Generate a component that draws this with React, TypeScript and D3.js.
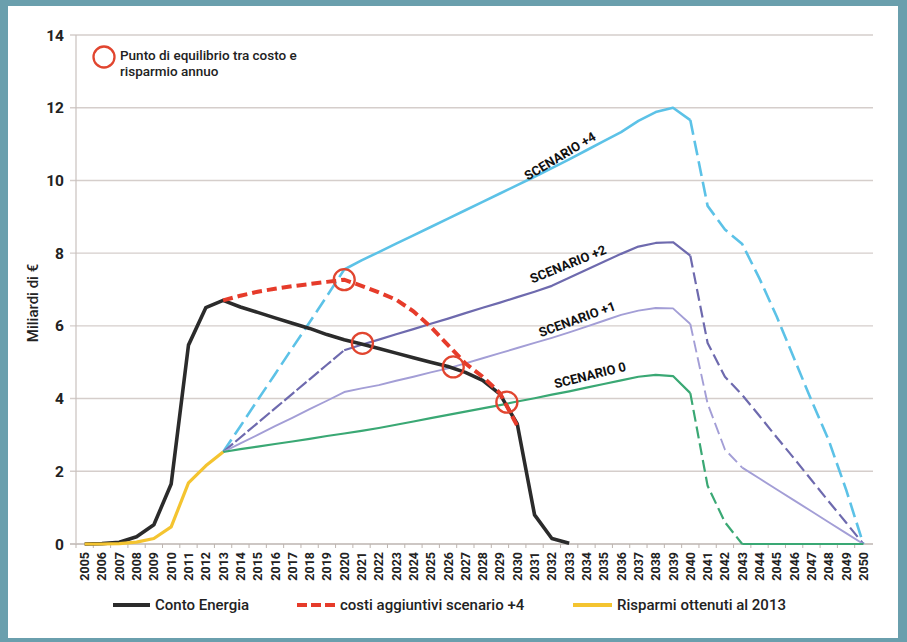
import React from "react";
import * as d3 from "d3";

const years: number[] = d3.range(2005, 2051);
const yTicks: number[] = [0, 2, 4, 6, 8, 10, 12, 14];

// Conto Energia 2005..2033
const contoEnergia: number[] = [0, 0.01, 0.05, 0.2, 0.53, 1.65, 5.47, 6.5, 6.7, 6.52, 6.37, 6.22, 6.07, 5.93, 5.76, 5.62, 5.5, 5.38, 5.25, 5.12, 5.0, 4.88, 4.72, 4.5, 4.12, 3.3, 0.8, 0.15, 0.02];
// Risparmi ottenuti al 2013: 2005..2013
const risparmi: number[] = [0, 0, 0.01, 0.05, 0.15, 0.47, 1.68, 2.15, 2.53];
// costi aggiuntivi scenario +4: 2013..2030
const costiAggiuntivi: number[] = [6.7, 6.83, 6.94, 7.02, 7.09, 7.15, 7.21, 7.27, 7.1, 6.92, 6.72, 6.4, 5.97, 5.47, 4.97, 4.6, 4.15, 3.25];
// Scenarios: 2013..2050
const scenario4: number[] = [2.53, 3.24, 3.96, 4.67, 5.39, 6.1, 6.82, 7.55, 7.8, 8.03, 8.26, 8.49, 8.72, 8.95, 9.18, 9.41, 9.64, 9.87, 10.1, 10.34, 10.58, 10.83, 11.08, 11.33, 11.64, 11.88, 12.0, 11.66, 9.3, 8.65, 8.25, 7.3, 6.25, 5.1, 3.95, 2.85, 1.5, 0];
const scenario2: number[] = [2.53, 2.93, 3.33, 3.73, 4.13, 4.53, 4.93, 5.33, 5.48, 5.62, 5.77, 5.91, 6.06, 6.2, 6.35, 6.5, 6.64, 6.79, 6.94, 7.1, 7.32, 7.54, 7.76, 7.98, 8.18, 8.28, 8.3, 7.93, 5.53, 4.6, 4.1, 3.52, 2.93, 2.35, 1.76, 1.17, 0.59, 0];
const scenario1: number[] = [2.53, 2.77, 3.0, 3.24, 3.47, 3.71, 3.94, 4.18, 4.28, 4.37, 4.49, 4.6, 4.72, 4.83, 4.97, 5.11, 5.25, 5.39, 5.53, 5.67, 5.82, 5.98, 6.14, 6.3, 6.42, 6.49, 6.48, 6.05, 3.86, 2.6, 2.1, 1.8, 1.5, 1.2, 0.9, 0.6, 0.3, 0];
const scenario0: number[] = [2.53, 2.61, 2.68, 2.75, 2.82, 2.89, 2.97, 3.04, 3.11, 3.19, 3.28, 3.37, 3.46, 3.55, 3.64, 3.73, 3.82, 3.92, 4.01, 4.11, 4.2, 4.3, 4.4, 4.5, 4.6, 4.65, 4.62, 4.15, 1.6, 0.6, 0, 0, 0, 0, 0, 0, 0, 0];

const scenarioNames: string[] = ["SCENARIO +4", "SCENARIO +2", "SCENARIO +1", "SCENARIO 0"];
// equilibrium points [year, value]
const equilibriumYears: number[] = [2020, 2021.05, 2026.3, 2029.4];
const equilibriumValues: number[] = [7.27, 5.52, 4.87, 3.9];

const legendLabels: string[] = ["Conto Energia", "costi aggiuntivi scenario +4", "Risparmi ottenuti al 2013"];

const W = 907, H = 642;
const FONT = "Roboto, 'DejaVu Sans', sans-serif";

export default function App() {
  const x = d3.scaleLinear().domain([2004.5, 2050.5]).range([76, 872]);
  const y = d3.scaleLinear().domain([0, 14]).range([544, 35]);
  const line = d3.line<[number, number]>().x(d => x(d[0])).y(d => y(d[1]));

  const seg = (vals: number[], start: number, from: number, to: number): string => {
    const pts: [number, number][] = [];
    vals.forEach((v, i) => {
      const yr = start + i;
      if (yr >= from && yr <= to) pts.push([yr, v]);
    });
    return line(pts) || "";
  };

  const scenarios = [
    { vals: scenario4, color: "#5cc2e7", w: 2.6, segs: [[2013, 2020, "15,6"], [2020, 2040, null], [2040, 2050, "15,6"]] },
    { vals: scenario2, color: "#6e6aae", w: 2.2, segs: [[2013, 2020, "13,3"], [2020, 2040, null], [2040, 2050, "12,5"]] },
    { vals: scenario1, color: "#a39ed6", w: 1.9, segs: [[2013, 2040, null], [2040, 2043, "12,5"], [2043, 2050, null]] },
    { vals: scenario0, color: "#3aa874", w: 2.2, segs: [[2013, 2040, null], [2040, 2043, "12,5"], [2043, 2050, null]] },
  ];

  const labelPos = [
    { x: 560, y: 156, a: -31 },
    { x: 568, y: 264, a: -22 },
    { x: 577, y: 319, a: -20 },
    { x: 590, y: 375, a: -14 },
  ];

  return (
    <svg width={W} height={H} style={{ position: "absolute", left: 0, top: 0 }} fontFamily={FONT}>
      <rect x={0} y={0} width={W} height={H} fill="#6a9fad" />
      <rect x={8} y={6} width={890} height={632} fill="#ffffff" />

      {/* grid */}
      {yTicks.map(t => (
        <g key={t}>
          <line x1={70} x2={873} y1={y(t)} y2={y(t)} stroke={t === 0 ? "#bdb5b0" : "#d5cecb"} strokeWidth={1.4} />
          <text x={64} y={y(t)} dy="0.36em" textAnchor="end" fontSize={15.5} fontWeight={700} fill="#222">{t}</text>
        </g>
      ))}
      <line x1={76} x2={76} y1={35} y2={544} stroke="#c9c2be" strokeWidth={1.2} />

      {/* x ticks & labels */}
      {years.map(yr => (
        <g key={yr}>
          <line x1={x(yr - 0.5)} x2={x(yr - 0.5)} y1={544} y2={548} stroke="#bdb5b0" strokeWidth={1} />
          <text transform={`translate(${x(yr)},552) rotate(-90)`} dy="0.36em" textAnchor="end" fontSize={12.5} fontWeight={700} fill="#222">{yr}</text>
        </g>
      ))}

      <text transform="translate(33,303) rotate(-90)" textAnchor="middle" dy="0.36em" fontSize={15} fontWeight={500} fill="#222">Miliardi di €</text>

      {/* scenarios */}
      {scenarios.map((s, i) => (
        <g key={i}>
          {s.segs.map((sg, j) => (
            <path key={j} d={seg(s.vals, 2013, sg[0] as number, sg[1] as number)} fill="none" stroke={s.color} strokeWidth={s.w}
              strokeDasharray={(sg[2] as string) || undefined} strokeLinejoin="round" />
          ))}
        </g>
      ))}

      {/* Conto energia */}
      <path d={seg(contoEnergia, 2005, 2005, 2033)} fill="none" stroke="#2b2b2b" strokeWidth={3.6} strokeLinejoin="round" />
      {/* Risparmi */}
      <path d={seg(risparmi, 2005, 2005, 2013)} fill="none" stroke="#f4c430" strokeWidth={3.2} strokeLinejoin="round" />
      {/* costi aggiuntivi */}
      <path d={seg(costiAggiuntivi, 2013, 2013, 2030)} fill="none" stroke="#e63b2a" strokeWidth={4} strokeDasharray="10,5" />

      {/* equilibrium circles */}
      {equilibriumYears.map((yr, i) => (
        <circle key={i} cx={x(yr)} cy={y(equilibriumValues[i])} r={10.5} fill="none" stroke="#e1452f" strokeWidth={2.3} />
      ))}

      {/* scenario labels */}
      {scenarioNames.map((n, i) => (
        <text key={n} transform={`translate(${labelPos[i].x},${labelPos[i].y}) rotate(${labelPos[i].a})`} textAnchor="middle" dy="0.36em"
          fontSize={13} fontWeight={700} fill="#111">{n}</text>
      ))}

      {/* annotation */}
      <circle cx={104} cy={57} r={10.5} fill="none" stroke="#e1452f" strokeWidth={2.3} />
      <text x={120} y={60} fontSize={13.5} fontWeight={500} fill="#222">Punto di equilibrio tra costo e</text>
      <text x={120} y={76} fontSize={13.5} fontWeight={500} fill="#222">risparmio annuo</text>

      {/* legend */}
      <line x1={113} x2={150} y1={605} y2={605} stroke="#2b2b2b" strokeWidth={4} />
      <text x={155} y={605} dy="0.36em" fontSize={15} fontWeight={500} fill="#222">{legendLabels[0]}</text>
      <line x1={297} x2={337} y1={605} y2={605} stroke="#e63b2a" strokeWidth={4} strokeDasharray="10,4" />
      <text x={340} y={605} dy="0.36em" fontSize={15} fontWeight={500} fill="#222">{legendLabels[1]}</text>
      <line x1={573} x2={612} y1={605} y2={605} stroke="#f4c430" strokeWidth={4} />
      <text x={617} y={605} dy="0.36em" fontSize={15} fontWeight={500} fill="#222">{legendLabels[2]}</text>
    </svg>
  );
}
